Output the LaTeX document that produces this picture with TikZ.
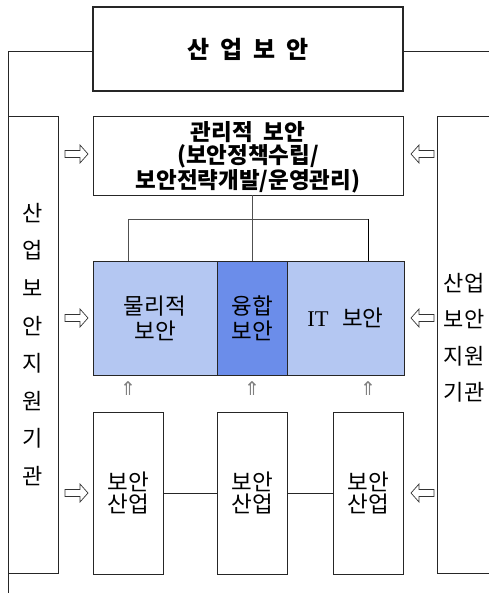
\documentclass[tikz,border=0pt]{standalone}
\usepackage{fontspec}
\setmainfont{Noto Sans CJK KR}
\newfontfamily\latserif{Liberation Serif}
\newfontfamily\symfont{DejaVu Sans}
\definecolor{lightblu}{HTML}{B4C7F2}
\definecolor{midblu}{HTML}{6B8DEA}
\definecolor{treegray}{HTML}{505050}
\begin{document}
\begin{tikzpicture}[x=1pt,y=-1pt,
  box/.style={draw=black!85, line width=0.8pt, rectangle, inner sep=0pt, align=center},
  kor/.style={font=\fontsize{22.5}{25}\selectfont},
  kbold/.style={font=\fontsize{22.5}{23.5}\selectfont\bfseries},
  tline/.style={draw=treegray, line width=0.8pt},
  uparr/.style={text=gray, font=\symfont\fontsize{19}{19}\selectfont, inner sep=0pt},
  harrow/.pic={\draw[line width=0.7pt, draw=black!80, fill=white] (-11.5,-3.5) -- (3.5,-3.5) -- (3.5,-9) -- (11.5,0) -- (3.5,9) -- (3.5,3.5) -- (-11.5,3.5) -- cycle;}
]
\useasboundingbox (0,0) rectangle (488,593);

% title
\node[box, line width=2pt, minimum width=310pt, minimum height=84pt, font=\fontsize{24}{24}\selectfont\bfseries] (title) at (248,49) {산\hspace{0.45em}업\hspace{0.45em}보\hspace{0.45em}안};
\coordinate (lcorner) at (8,51);
\coordinate (lend) at (8,593);
\coordinate (rend) at (489,51);
\draw[line width=0.8pt, draw=black!85] (title.west |- lcorner) -- (lcorner) -- (lend);
\draw[line width=0.8pt, draw=black!85] (title.east |- rend) -- (rend);

% support boxes
\node[box, minimum width=50pt, minimum height=457pt, font=\fontsize{22}{37.6}\selectfont] (lsup) at (33,344.5) {산\\업\\보\\안\\지\\원\\기\\관};
\node[box, minimum width=53pt, minimum height=457pt, anchor=north west] (rsup) at (437,116) {};
\node[align=center, inner sep=0pt, font=\fontsize{22}{36.5}\selectfont] (rsuptext) at (464,338) {산업\\보안\\지원\\기관};

% management
\node[box, minimum width=310pt, minimum height=79pt, kbold] (mgmt) at (248,155.5) {};
\node[align=center, inner sep=0pt, kbold] (mgmttext) at (248,157) {관리적\hspace{0.5em}보안\\(보안정책수립/\\보안전략개발/운영관리)};

% blue boxes
\node[box, fill=lightblu, minimum width=124pt, minimum height=114pt, kor] (phys) at (155,318) {물리적\\보안};
\node[box, fill=midblu, minimum width=70pt, minimum height=114pt, kor] (conv) at (252,318) {융합\\보안};
\node[box, fill=lightblu, minimum width=117pt, minimum height=114pt, kor] (itsec) at (345.5,318) {{\latserif IT}\hspace{0.6em}보안};

% tree
\coordinate (tl) at (128,219);
\coordinate (tr) at (368,219);
\draw[tline] (conv.north |- mgmt.south) -- (conv.north);
\draw[tline] (phys.north -| tl) -- (tl) -- (tr);
\draw[line width=0.8pt, draw=black] (tr) -- (itsec.north -| tr);

% up arrows
\node[uparr] (u1) at (128,389) {⇑};
\node[uparr] (u2) at (252,389) {⇑};
\node[uparr] (u3) at (368,389) {⇑};

% bottom boxes
\node[box, minimum width=70pt, minimum height=162pt, font=\fontsize{22.5}{22}\selectfont] (b1) at (128,493) {보안\\산업};
\node[box, minimum width=70pt, minimum height=162pt, font=\fontsize{22.5}{22}\selectfont] (b2) at (252,493) {보안\\산업};
\node[box, minimum width=70pt, minimum height=162pt, font=\fontsize{22.5}{22}\selectfont] (b3) at (368,493) {보안\\산업};
\draw[line width=0.8pt, draw=black!85] (b1.east) -- (b2.west);
\draw[line width=0.8pt, draw=black!85] (b2.east) -- (b3.west);

% hollow arrows
\pic at (76.5,154) {harrow};
\pic at (76.5,318) {harrow};
\pic at (76.5,493) {harrow};
\pic[xscale=-1] at (422.5,154) {harrow};
\pic[xscale=-1] at (422.5,318) {harrow};
\pic[xscale=-1] at (422.5,493) {harrow};
\end{tikzpicture}
\end{document}
